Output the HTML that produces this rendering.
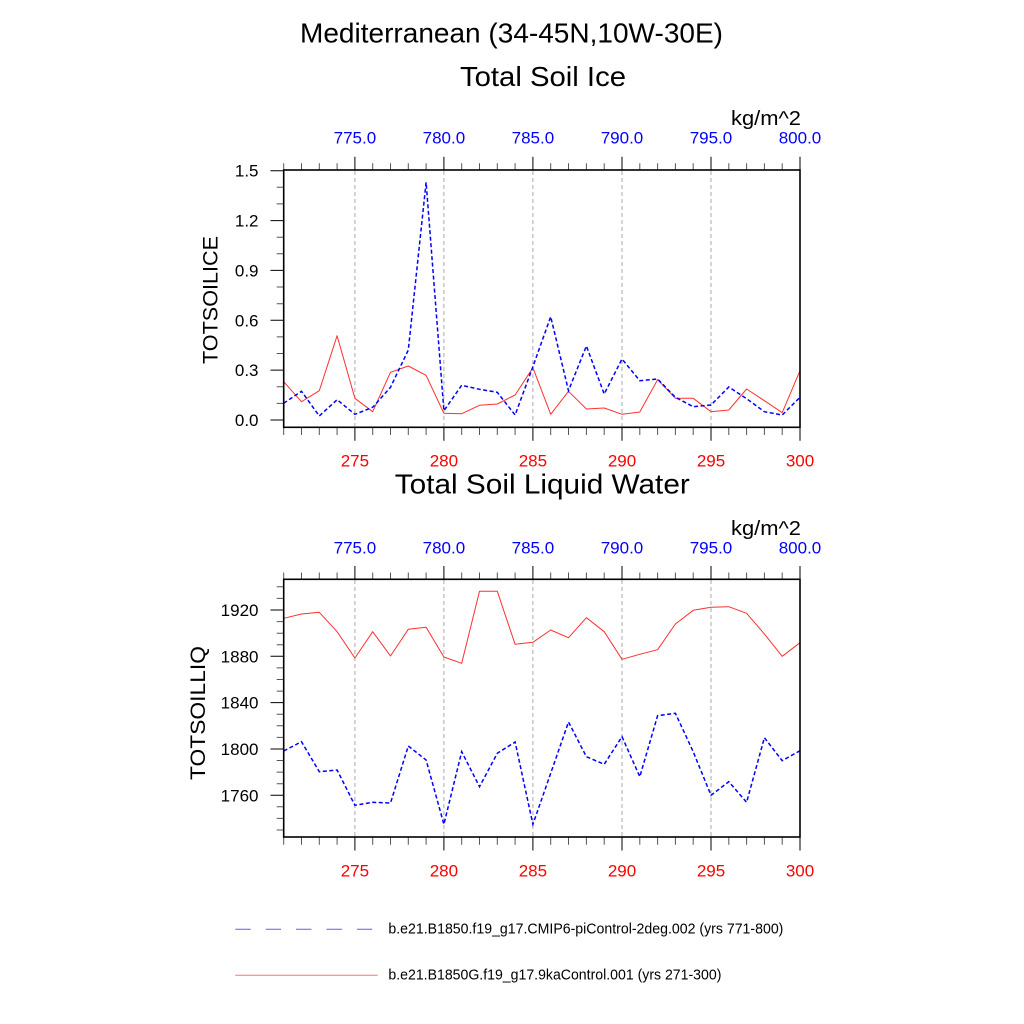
<!DOCTYPE html>
<html>
<head>
<meta charset="utf-8">
<style>
html,body{margin:0;padding:0;background:#fff;}
svg{display:block;}
text{font-family:"Liberation Sans",Arial,sans-serif;}
</style>
</head>
<body>
<svg width="1024" height="1024" viewBox="0 0 1024 1024" xmlns="http://www.w3.org/2000/svg">
<rect width="1024" height="1024" fill="#fff"/>

<!-- Titles -->
<text x="511.5" y="42.3" font-size="28" text-anchor="middle" textLength="423" lengthAdjust="spacingAndGlyphs">Mediterranean (34-45N,10W-30E)</text>
<text x="543" y="86" font-size="28" text-anchor="middle" textLength="166" lengthAdjust="spacingAndGlyphs">Total Soil Ice</text>
<text x="542.3" y="493.3" font-size="28" text-anchor="middle" textLength="295" lengthAdjust="spacingAndGlyphs">Total Soil Liquid Water</text>

<!-- ================= TOP PLOT ================= -->
<text x="801" y="125" font-size="20" text-anchor="end" textLength="70" lengthAdjust="spacingAndGlyphs">kg/m^2</text>
<g font-size="17" fill="#0000ff" text-anchor="middle">
<text x="354.9" y="143.5">775.0</text>
<text x="443.9" y="143.5">780.0</text>
<text x="532.9" y="143.5">785.0</text>
<text x="622.0" y="143.5">790.0</text>
<text x="711.0" y="143.5">795.0</text>
<text x="800.0" y="143.5">800.0</text>
</g>
<g font-size="17" fill="#ff0000" text-anchor="middle">
<text x="354.9" y="466.7">275</text>
<text x="443.9" y="466.7">280</text>
<text x="532.9" y="466.7">285</text>
<text x="622.0" y="466.7">290</text>
<text x="711.0" y="466.7">295</text>
<text x="800.0" y="466.7">300</text>
</g>
<g font-size="17" fill="#000" text-anchor="end">
<text x="258.5" y="176.7">1.5</text>
<text x="258.5" y="226.6">1.2</text>
<text x="258.5" y="276.4">0.9</text>
<text x="258.5" y="326.3">0.6</text>
<text x="258.5" y="376.1">0.3</text>
<text x="258.5" y="426">0.0</text>
</g>
<text transform="translate(217.7,300) rotate(-90)" font-size="21" text-anchor="middle" textLength="128" lengthAdjust="spacingAndGlyphs">TOTSOILICE</text>

<!-- grid -->
<g stroke="#aaaaaa" stroke-width="1" stroke-dasharray="4,3" fill="none">
<path d="M354.9,171V427M443.9,171V427M532.9,171V427M622,171V427M711,171V427"/>
</g>

<!-- ticks top plot -->
<g stroke="#000" stroke-width="1" fill="none">
<path stroke="#555" d="M283.7,170V163.3M301.5,170V163.3M319.3,170V163.3M337.1,170V163.3M372.7,170V163.3M390.5,170V163.3M408.3,170V163.3M426.1,170V163.3M461.7,170V163.3M479.5,170V163.3M497.3,170V163.3M515.1,170V163.3M550.7,170V163.3M568.5,170V163.3M586.4,170V163.3M604.2,170V163.3M639.8,170V163.3M657.6,170V163.3M675.4,170V163.3M693.2,170V163.3M728.8,170V163.3M746.6,170V163.3M764.4,170V163.3M782.2,170V163.3"/>
<path d="M354.9,170V156.7M443.9,170V156.7M532.9,170V156.7M622,170V156.7M711,170V156.7M800,170V156.7"/>
<path stroke="#555" d="M283.7,427.3V435M301.5,427.3V435M319.3,427.3V435M337.1,427.3V435M372.7,427.3V435M390.5,427.3V435M408.3,427.3V435M426.1,427.3V435M461.7,427.3V435M479.5,427.3V435M497.3,427.3V435M515.1,427.3V435M550.7,427.3V435M568.5,427.3V435M586.4,427.3V435M604.2,427.3V435M639.8,427.3V435M657.6,427.3V435M675.4,427.3V435M693.2,427.3V435M728.8,427.3V435M746.6,427.3V435M764.4,427.3V435M782.2,427.3V435"/>
<path d="M354.9,427.3V440.7M443.9,427.3V440.7M532.9,427.3V440.7M622,427.3V440.7M711,427.3V440.7M800,427.3V440.7"/>
<path stroke="#555" d="M283.7,403.4H276.7M283.7,386.8H276.7M283.7,353.5H276.7M283.7,336.9H276.7M283.7,303.7H276.7M283.7,287H276.7M283.7,253.8H276.7M283.7,237.2H276.7M283.7,203.9H276.7M283.7,187.3H276.7"/>
<path d="M283.7,420H270.5M283.7,370.1H270.5M283.7,320.3H270.5M283.7,270.4H270.5M283.7,220.6H270.5M283.7,170.7H270.5"/>
</g>

<!-- series top -->
<polyline fill="none" stroke="#ff3030" stroke-width="1" stroke-linejoin="round" points="283.7,381.7 301.5,401.7 319.3,390.7 337.1,335.7 354.9,398.3 372.7,411.7 390.5,372.3 408.3,366 426.1,375.3 443.9,413.3 461.7,413.7 479.5,405.3 497.3,404 515.1,395 532.9,367.7 550.7,414.3 568.5,391.3 586.4,409 604.2,408 622,414.3 639.8,412 657.6,379.7 675.4,398.3 693.2,398.3 711,411.7 728.8,410 746.6,389 764.4,400.7 782.2,412.7 800,370.7"/>
<polyline fill="none" stroke="#0000ff" stroke-width="1.5" stroke-dasharray="4,2.5" points="283.7,403.3 301.5,391.3 319.3,416 337.1,399.7 354.9,414.3 372.7,407.3 390.5,387.3 408.3,350 426.1,182.3 443.9,410.7 461.7,385.3 479.5,389.3 497.3,392.3 515.1,415 532.9,366.7 550.7,316.7 568.5,390.7 586.4,346 604.2,394 622,359 639.8,380.7 657.6,379 675.4,397.3 693.2,406.7 711,405 728.8,387 746.6,398.7 764.4,411.7 782.2,415 800,397.3"/>

<rect x="283.7" y="170" width="516.3" height="257.3" fill="none" stroke="#000" stroke-width="1.6"/>

<!-- ================= BOTTOM PLOT ================= -->
<text x="801" y="535" font-size="20" text-anchor="end" textLength="70" lengthAdjust="spacingAndGlyphs">kg/m^2</text>
<g font-size="17" fill="#0000ff" text-anchor="middle">
<text x="354.9" y="553.3">775.0</text>
<text x="443.9" y="553.3">780.0</text>
<text x="532.9" y="553.3">785.0</text>
<text x="622.0" y="553.3">790.0</text>
<text x="711.0" y="553.3">795.0</text>
<text x="800.0" y="553.3">800.0</text>
</g>
<g font-size="17" fill="#ff0000" text-anchor="middle">
<text x="354.9" y="876.4">275</text>
<text x="443.9" y="876.4">280</text>
<text x="532.9" y="876.4">285</text>
<text x="622.0" y="876.4">290</text>
<text x="711.0" y="876.4">295</text>
<text x="800.0" y="876.4">300</text>
</g>
<g font-size="17" fill="#000" text-anchor="end">
<text x="258.5" y="616">1920</text>
<text x="258.5" y="662.3">1880</text>
<text x="258.5" y="708.6">1840</text>
<text x="258.5" y="755">1800</text>
<text x="258.5" y="801.3">1760</text>
</g>
<text transform="translate(205,713) rotate(-90)" font-size="21" text-anchor="middle" textLength="134" lengthAdjust="spacingAndGlyphs">TOTSOILLIQ</text>

<g stroke="#aaaaaa" stroke-width="1" stroke-dasharray="4,3" fill="none">
<path d="M354.9,580V836M443.9,580V836M532.9,580V836M622,580V836M711,580V836"/>
</g>

<g stroke="#000" stroke-width="1" fill="none">
<path stroke="#555" d="M283.7,579.3V572.5M301.5,579.3V572.5M319.3,579.3V572.5M337.1,579.3V572.5M372.7,579.3V572.5M390.5,579.3V572.5M408.3,579.3V572.5M426.1,579.3V572.5M461.7,579.3V572.5M479.5,579.3V572.5M497.3,579.3V572.5M515.1,579.3V572.5M550.7,579.3V572.5M568.5,579.3V572.5M586.4,579.3V572.5M604.2,579.3V572.5M639.8,579.3V572.5M657.6,579.3V572.5M675.4,579.3V572.5M693.2,579.3V572.5M728.8,579.3V572.5M746.6,579.3V572.5M764.4,579.3V572.5M782.2,579.3V572.5"/>
<path d="M354.9,579.3V566M443.9,579.3V566M532.9,579.3V566M622,579.3V566M711,579.3V566M800,579.3V566"/>
<path stroke="#555" d="M283.7,837V844.7M301.5,837V844.7M319.3,837V844.7M337.1,837V844.7M372.7,837V844.7M390.5,837V844.7M408.3,837V844.7M426.1,837V844.7M461.7,837V844.7M479.5,837V844.7M497.3,837V844.7M515.1,837V844.7M550.7,837V844.7M568.5,837V844.7M586.4,837V844.7M604.2,837V844.7M639.8,837V844.7M657.6,837V844.7M675.4,837V844.7M693.2,837V844.7M728.8,837V844.7M746.6,837V844.7M764.4,837V844.7M782.2,837V844.7"/>
<path d="M354.9,837V850.5M443.9,837V850.5M532.9,837V850.5M622,837V850.5M711,837V850.5M800,837V850.5"/>
<path stroke="#555" d="M283.7,830H276.7M283.7,818.4H276.7M283.7,806.8H276.7M283.7,783.7H276.7M283.7,772.1H276.7M283.7,760.5H276.7M283.7,737.4H276.7M283.7,725.8H276.7M283.7,714.2H276.7M283.7,691.1H276.7M283.7,679.5H276.7M283.7,667.9H276.7M283.7,644.7H276.7M283.7,633.2H276.7M283.7,621.6H276.7M283.7,598.4H276.7M283.7,586.8H276.7"/>
<path d="M283.7,795.3H270.5M283.7,749H270.5M283.7,702.6H270.5M283.7,656.3H270.5M283.7,610H270.5"/>
</g>

<polyline fill="none" stroke="#ff3030" stroke-width="1" stroke-linejoin="round" points="283.7,618.3 301.5,614 319.3,612.3 337.1,631.7 354.9,658 372.7,631.7 390.5,656 408.3,629.3 426.1,627.3 443.9,657 461.7,663.3 479.5,591.3 497.3,591.3 515.1,644.3 532.9,642.3 550.7,630 568.5,637.7 586.4,617.7 604.2,631.7 622,659.3 639.8,654.3 657.6,649.7 675.4,624 693.2,610.3 711,607.3 728.8,606.7 746.6,613.3 764.4,634 782.2,656.3 800,642.7"/>
<polyline fill="none" stroke="#0000ff" stroke-width="1.5" stroke-dasharray="4,2.5" points="283.7,751 301.5,741.7 319.3,771.7 337.1,770 354.9,805.3 372.7,802.3 390.5,803 408.3,746 426.1,760 443.9,824.3 461.7,751.7 479.5,786.7 497.3,753.3 515.1,742 532.9,824.3 550.7,773.3 568.5,722 586.4,756.7 604.2,764.3 622,736.7 639.8,776.7 657.6,715.7 675.4,713.3 693.2,751.7 711,795.3 728.8,781.7 746.6,802.3 764.4,737.7 782.2,760.7 800,750.7"/>

<rect x="283.7" y="579.3" width="516.3" height="257.7" fill="none" stroke="#000" stroke-width="1.6"/>

<!-- Legend -->
<line x1="235.3" y1="929.3" x2="372.3" y2="929.3" stroke="#5c5cff" stroke-width="1" stroke-dasharray="15.3,15.1"/>
<line x1="235.3" y1="975.3" x2="377.7" y2="975.3" stroke="#ff7070" stroke-width="1"/>
<text x="388.4" y="933.3" font-size="15" textLength="395" lengthAdjust="spacingAndGlyphs">b.e21.B1850.f19_g17.CMIP6-piControl-2deg.002 (yrs 771-800)</text>
<text x="388.4" y="979.3" font-size="15" textLength="333" lengthAdjust="spacingAndGlyphs">b.e21.B1850G.f19_g17.9kaControl.001 (yrs 271-300)</text>
</svg>
</body>
</html>
